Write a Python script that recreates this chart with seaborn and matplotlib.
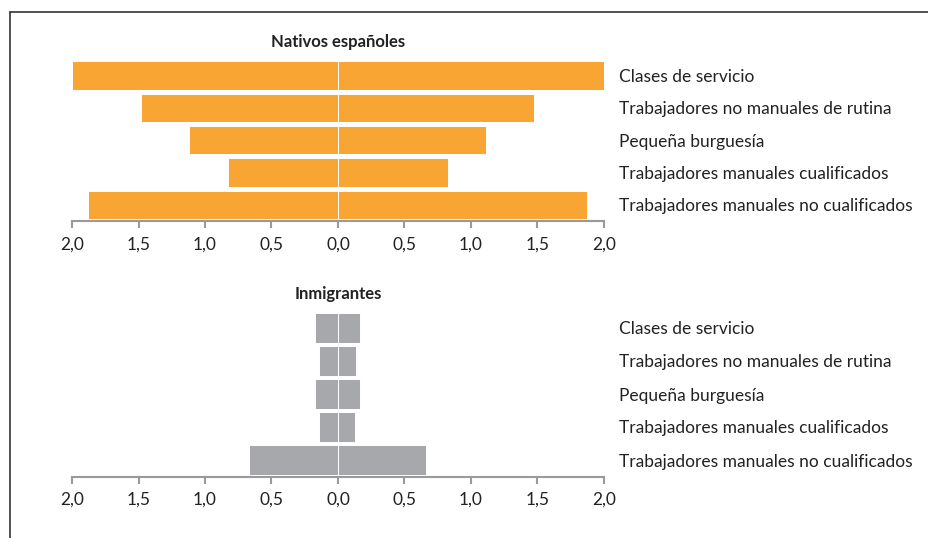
import numpy as np
import pandas as pd
import matplotlib
matplotlib.use("Agg")
import matplotlib.pyplot as plt
from matplotlib.lines import Line2D
import seaborn as sns

# Data
categorias = ["Clases de servicio",
              "Trabajadores no manuales de rutina",
              "Pequeña burguesía",
              "Trabajadores manuales cualificados",
              "Trabajadores manuales no cualificados"]
nativos_izq = [2.00, 1.48, 1.12, 0.83, 1.88]
nativos_der = [2.01, 1.47, 1.11, 0.83, 1.87]
inmig_izq = [0.17, 0.145, 0.17, 0.14, 0.67]
inmig_der = [0.165, 0.135, 0.165, 0.13, 0.66]
ticks = [-2.0, -1.5, -1.0, -0.5, 0.0, 0.5, 1.0, 1.5, 2.0]
tick_labels = ["2,0", "1,5", "1,0", "0,5", "0,0", "0,5", "1,0", "1,5", "2,0"]

sns.set_theme(style="white")
plt.rcParams['font.family'] = ['Lato', 'DejaVu Sans']

W, H = 929, 538
fig = plt.figure(figsize=(W / 100, H / 100), dpi=100)


def panel(bottom_px, top_px, izq, der, color, title):
    ax = fig.add_axes([72 / W, 1 - bottom_px / H, 532 / W, (bottom_px - top_px) / H])
    df = pd.DataFrame({"cat": categorias * 2,
                       "val": [-v for v in izq] + list(der),
                       "lado": ["izq"] * 5 + ["der"] * 5})
    for lado in ["izq", "der"]:
        sns.barplot(data=df[df["lado"] == lado], x="val", y="cat", order=categorias,
                    color=color, saturation=1, width=0.88, edgecolor="white",
                    linewidth=0.7, orient="h", ax=ax)
    ax.set_xlim(-2, 2)
    ax.set_ylim(4.5, -0.5)
    ax.set_xticks(ticks)
    ax.set_xticklabels(tick_labels, fontsize=12.5, color="#222222")
    ax.yaxis.tick_right()
    ax.tick_params(axis="y", length=0, pad=11, labelsize=12.5, labelcolor="#222222")
    ax.tick_params(axis="x", length=5, width=1.5, color="#9a9a9a", direction="out",
                   pad=6, bottom=True)
    for s in ["left", "right", "top"]:
        ax.spines[s].set_visible(False)
    ax.spines["bottom"].set_color("#9a9a9a")
    ax.spines["bottom"].set_linewidth(1.5)
    ax.set_xlabel("")
    ax.set_ylabel("")
    ax.set_title(title, fontsize=12, fontweight="bold", color="#222222", pad=9)
    return ax


panel(221, 59.5, nativos_izq, nativos_der, "#F9A533", "Nativos españoles")
panel(476.5, 311.5, inmig_izq, inmig_der, "#A7A8AB", "Inmigrantes")

# frame lines (top and left)
fig.add_artist(Line2D([10 / W, 1], [1 - 12 / H, 1 - 12 / H], color="#333333", lw=1.2,
                      transform=fig.transFigure))
fig.add_artist(Line2D([10 / W, 10 / W], [0, 1 - 12 / H], color="#333333", lw=1.2,
                      transform=fig.transFigure))

fig.savefig("out.png", dpi=100)
